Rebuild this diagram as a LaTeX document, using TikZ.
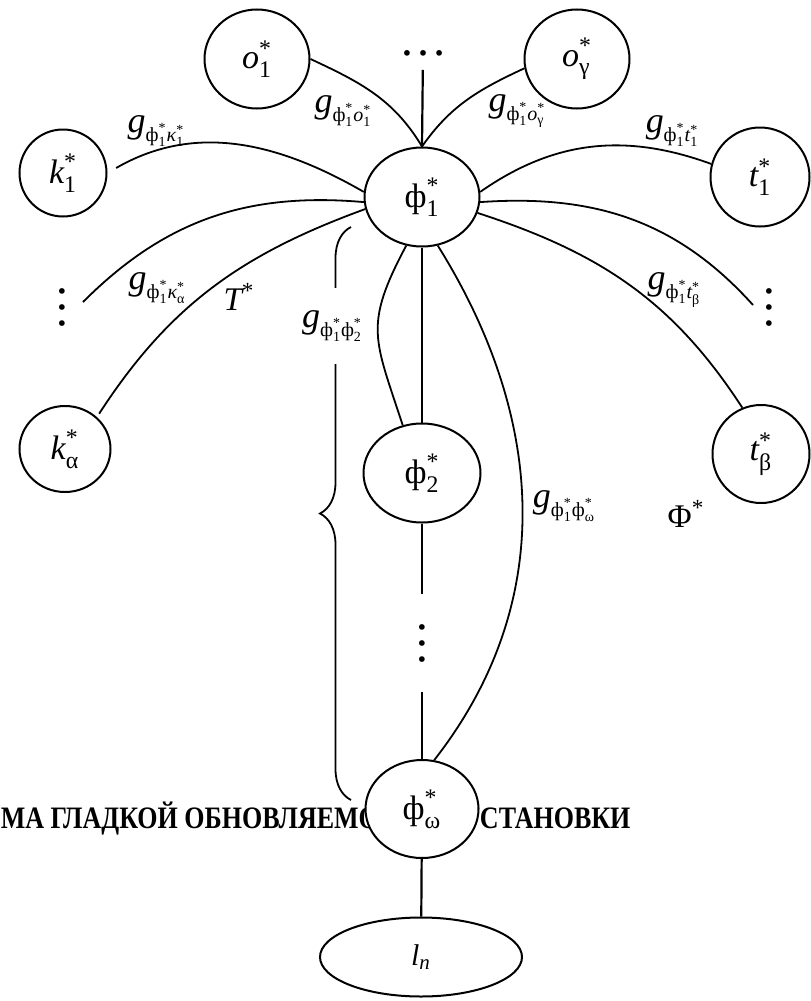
\documentclass[tikz,border=0pt]{standalone}
\usepackage{amsmath}
\usepackage{fontspec}
\setmainfont{Liberation Serif}
\usetikzlibrary{shapes.geometric, decorations.pathreplacing}

% starred variable with an index
\newcommand{\sv}[2]{\text{#1}_{\text{#2}}^{\text{*}}}
\newcommand{\nd}[2]{$\sv{#1}{#2}$}
% weight g with a small two-part index
\newcommand{\gl}[1]{{\fontsize{18}{18}\selectfont\itshape g}\raisebox{-4.5pt}{\fontsize{10}{10}\selectfont$#1$}}
% tall bold heading
\newcommand{\hd}[1]{\scalebox{1}[1.2]{#1}}

\begin{document}
\begin{tikzpicture}[x=0.5pt, y=0.5pt, line width=0.9pt,
    every node/.style={inner sep=0pt},
    var/.style={draw, ellipse, line width=1pt, fill=white, font=\fontsize{17}{17}\selectfont},
    dotsv/.style={font=\fontsize{24}{24}\selectfont},
    lab/.style={font=\fontsize{16.5}{16.5}\selectfont},
    stem/.style={line width=1.1pt},
    title/.style={font=\fontsize{13}{13}\selectfont\bfseries}]

    \useasboundingbox (0,0) rectangle (810,-1001);

    % heading, partly under phi_omega
    \node[title, anchor=base east] (ttl1) at (400,-828) {\hd{СХЕМА ГЛАДКОЙ ОБНОВЛЯЕМОЙ}};
    \node[title, anchor=base west] (ttl2) at (460,-828) {\hd{УСТАНОВКИ}};

    % vertices
    \node[var, minimum width=52.5pt, minimum height=49.5pt] (o1) at (257,-59) {\nd{\itshape o}{1}};
    \node[var, minimum width=52.5pt, minimum height=49.5pt] (og) at (577,-59) {\nd{\itshape o}{γ}};
    \node[dotsv, minimum height=16pt] (dtop) at (423,-53) {…};
    \node[var, minimum width=43.5pt, minimum height=43.5pt] (k1) at (63,-173) {\nd{\itshape k}{1}};
    \node[var, minimum width=57.5pt, minimum height=49.5pt] (phi1) at (422,-197) {\nd{ф}{1}};
    \node[var, minimum width=49.5pt, minimum height=49.5pt] (t1) at (760,-177) {\nd{\itshape t}{1}};
    \node[dotsv, rotate=90] (kdots) at (62,-307) {…};
    \node[dotsv, rotate=90] (tdots) at (769,-307) {…};
    \node[var, minimum width=45.5pt, minimum height=43pt] (ka) at (65,-449) {\nd{\itshape k}{α}};
    \node[var, minimum width=58.5pt, minimum height=49.5pt] (phi2) at (422,-473) {\nd{ф}{2}};
    \node[var, minimum width=48.5pt, minimum height=49pt] (tb) at (761,-454) {\nd{\itshape t}{β}};
    \node[dotsv, rotate=90, minimum width=48pt] (mdots) at (422,-643) {…};
    \node[var, minimum width=56.5pt, minimum height=49pt] (phiw) at (422,-809) {\nd{ф}{ω}};
    \node[var, minimum width=101pt, minimum height=39.5pt, font=\fontsize{15}{15}\selectfont] (ln) at (421,-957) {$\text{\itshape l}_{\text{\itshape n}}$};

    \coordinate (kend) at (83,-302);
    \coordinate (tend) at (753,-305);

    % edges
    \draw (o1.east) to[out=-25, in=121] (phi1.north);
    \draw (og.190) to[out=205, in=55] (phi1.north);
    \draw[stem] (dtop) -- (phi1.north);
    \draw[shorten <=5pt] (k1.east) to[out=30, in=150] (phi1.175);
    \draw (phi1.185) to[out=175, in=45] (kend);
    \draw[shorten >=2pt] (phi1.192) to[out=200, in=57] (ka.45);
    \draw (phi1.5) to[out=35, in=160] (t1.165);
    \draw (phi1.-5) to[out=4, in=132] (tend);
    \draw (phi1.-16) to[out=-18, in=123] (tb.112);
    \draw (phi1.252) to[out=242, in=108, looseness=1.3] (phi2.112);
    \draw[stem] (phi1) -- (phi2);
    \draw (phi1.288) to[out=-58, in=52] (phiw.76);
    \draw[stem] (phi2) -- (mdots);
    \draw[stem] (mdots) -- (phiw);
    \draw[stem] (phiw) -- (ln);

    % brace over the chain phi_1 ... phi_omega
    \coordinate (bt) at (351,-227);
    \coordinate (bb) at (351,-800);
    \draw[decorate, decoration={brace, amplitude=15.5pt}] (bb) -- (bt);

    % weights
    \node (gk1) at (156,-131) {\gl{\sv{ф}{1}\sv{\itshape κ}{1}}};
    \node (go1) at (343,-111) {\gl{\sv{ф}{1}\sv{\itshape o}{1}}};
    \node (gog) at (517,-111) {\gl{\sv{ф}{1}\sv{\itshape o}{γ}}};
    \node (gt1) at (672,-131) {\gl{\sv{ф}{1}\sv{\itshape t}{1}}};
    \node (gka) at (157,-288) {\gl{\sv{ф}{1}\sv{\itshape κ}{α}}};
    \node (gtb) at (674,-290) {\gl{\sv{ф}{1}\sv{\itshape t}{β}}};
    \node[fill=white, minimum height=38pt] (gp2) at (332,-326) {\gl{\sv{ф}{1}\sv{ф}{2}}};
    \node (gpw) at (564,-506) {\gl{\sv{ф}{1}\sv{ф}{ω}}};
    \node[lab] (tset) at (239,-297) {$\text{\itshape T}^{\text{*}}$};
    \node[lab] (phset) at (686,-514) {$\text{Φ}^{\text{*}}$};
\end{tikzpicture}
\end{document}
